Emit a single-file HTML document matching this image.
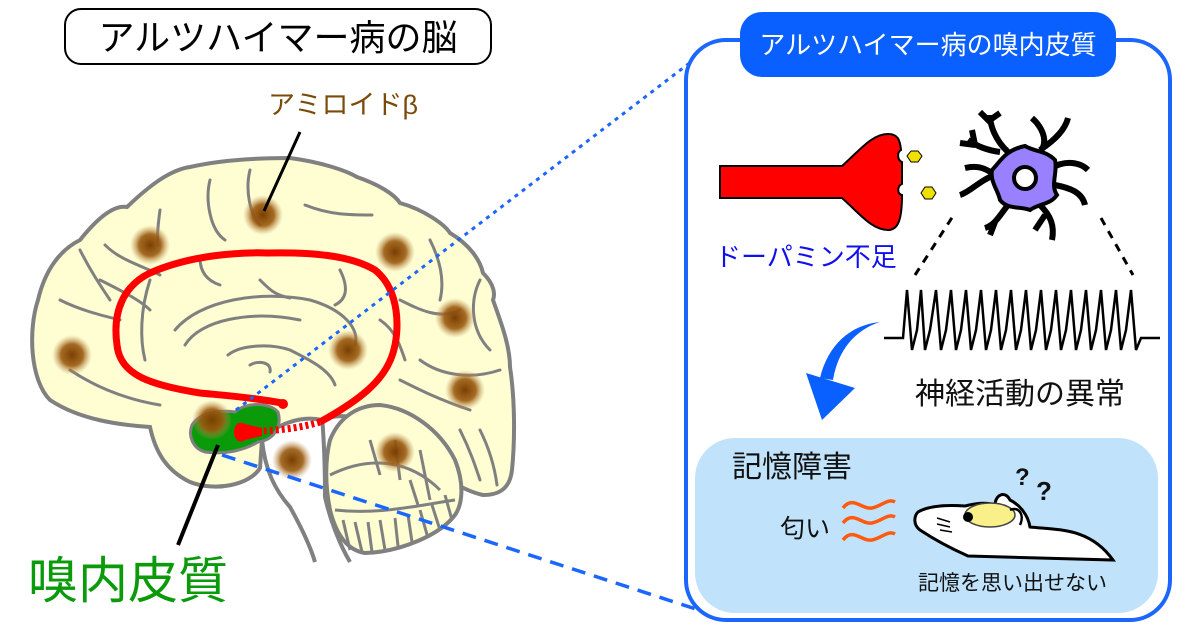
<!DOCTYPE html>
<html><head><meta charset="utf-8">
<style>
html,body{margin:0;padding:0;background:#fff;}
svg{display:block;}
text{font-family:"Liberation Sans","Noto Sans CJK JP",sans-serif;}
</style></head><body>
<svg width="1200" height="630" viewBox="0 0 1200 630" xmlns="http://www.w3.org/2000/svg">
<defs>
<radialGradient id="pl">
<stop offset="0" stop-color="#7a3f00"/>
<stop offset="0.55" stop-color="#9a5a10" stop-opacity="0.9"/>
<stop offset="1" stop-color="#c89a60" stop-opacity="0"/>
</radialGradient>
</defs>
<!-- title -->
<rect x="65" y="9" width="426" height="55" rx="16" fill="#fff" stroke="#000" stroke-width="2"/>
<text x="278" y="50" font-size="36" text-anchor="middle" fill="#000">アルツハイマー病の脳</text>
<text x="268" y="114" font-size="27" fill="#7a4a0a">アミロイドβ</text>

<!-- brainstem -->
<path d="M262,440 C265,470 275,490 290,507 C300,525 310,545 315,562 L350,562 C340,545 332,520 325,497 C323,470 322,440 322,420 Z" fill="#fff"/>
<path d="M262,440 C265,470 275,490 290,507 C300,525 310,545 315,562" fill="none" stroke="#808080" stroke-width="4"/>
<path d="M310,390 C318,405 323,420 323,430 C325,460 325,480 325,497 C330,520 340,545 350,562" fill="none" stroke="#808080" stroke-width="4"/>
<!-- cerebrum -->
<path d="M260,468 C250,485 215,492 190,482 C165,470 155,450 150,427 C120,425 80,420 50,400 C30,380 28,330 38,300 C45,270 60,250 80,240 C100,215 115,205 127,207 C150,185 170,170 190,167 C220,160 260,158 290,158 C320,162 345,170 357,177 C380,185 395,195 400,203 C425,210 445,225 450,233 C470,245 480,260 483,273 C495,285 495,295 493,300 C500,320 510,345 510,367 C515,400 515,440 512,470 C510,488 500,495 483,495 C460,490 430,470 400,440 C370,420 345,410 322,420 C300,415 275,425 262,440 Z" fill="#fefed2" stroke="#808080" stroke-width="4"/>
<!-- cerebellum -->
<path d="M330,440 C340,415 360,405 380,405 C410,408 440,430 455,460 C465,485 462,505 455,515 C440,535 400,552 365,553 C345,550 335,530 330,510 C325,485 325,460 330,440 Z" fill="#fefed2" stroke="#808080" stroke-width="4"/>
<g stroke="#808080" stroke-width="3" fill="none">
<path d="M330,475 C370,455 410,460 440,490"/><path d="M335,510 C380,515 420,505 455,500"/>
<path d="M343,520 L350,550"/><path d="M355,522 L362,552"/><path d="M368,522 L372,552"/><path d="M380,520 L385,550"/><path d="M395,518 L398,546"/><path d="M408,515 L412,542"/><path d="M420,510 L428,538"/><path d="M432,505 L440,530"/><path d="M445,495 L452,520"/>
<path d="M370,440 L380,475"/><path d="M395,440 L400,480"/><path d="M420,450 L430,500"/><path d="M410,480 L418,505"/>
</g>
<g stroke="#808080" stroke-width="3" fill="none" stroke-linecap="round">
<path d="M175,330 C200,300 260,290 310,300 C345,310 360,330 355,345"/>
<path d="M185,345 C200,320 250,310 300,320"/>
<path d="M228,355 C240,345 270,343 290,350 C310,360 330,370 335,385"/>
<path d="M250,365 C258,360 272,362 270,372"/>
<path d="M150,280 C140,310 140,340 145,360"/>
<path d="M100,280 C120,290 140,300 150,310"/>
<path d="M80,250 C90,270 100,285 110,300"/>
<path d="M60,300 C80,310 100,315 120,320"/>
<path d="M70,370 C100,390 130,400 160,405"/>
<path d="M210,180 C205,200 210,230 225,240"/>
<path d="M250,170 C245,190 250,215 260,225"/>
<path d="M305,205 C330,215 350,215 372,215"/>
<path d="M160,210 C158,225 157,235 158,245"/>
<path d="M105,245 C120,260 140,265 160,275"/>
<path d="M430,240 C440,260 445,280 440,300"/>
<path d="M480,280 C470,300 470,330 490,350"/>
<path d="M400,300 C420,310 440,320 460,310"/>
<path d="M420,360 C440,375 470,380 500,370"/>
<path d="M400,380 C420,390 440,400 470,410"/>
<path d="M340,270 C350,290 345,300 335,305"/>
<path d="M260,280 C270,290 275,295 290,298"/>
<path d="M200,258 C200,270 205,280 220,285"/>
<path d="M380,320 C395,330 400,345 405,360"/>
<path d="M480,430 C490,450 495,470 497,485"/>
<path d="M460,430 C470,450 475,465 480,480"/>
</g>
<!-- plaques -->
<g fill="url(#pl)">
<circle cx="263" cy="215" r="20"/><circle cx="150" cy="245" r="20"/><circle cx="395" cy="252" r="20"/>
<circle cx="455" cy="318" r="20"/><circle cx="72" cy="355" r="20"/><circle cx="348" cy="350" r="20"/>
<circle cx="465" cy="390" r="20"/><circle cx="395" cy="452" r="20"/><circle cx="292" cy="460" r="20"/>
</g>
<!-- green -->
<path d="M192,425 C200,412 220,410 235,412 C245,402 270,402 278,412 C282,425 275,440 258,442 C245,450 225,455 205,452 C192,448 188,435 192,425 Z" fill="#0a9a0a" stroke="#808080" stroke-width="3"/>
<circle cx="212" cy="420" r="20" fill="url(#pl)"/>
<!-- red loop -->
<path d="M282,403 C250,397 220,395 200,393 C150,385 120,375 117,345 C112,310 125,285 150,273 C190,255 240,252 267,253 C310,252 350,255 375,270 C400,290 400,330 393,353 C385,380 360,400 320,422" fill="none" stroke="#f00" stroke-width="7"/>
<path d="M320,422 C300,428 280,430 262,431" fill="none" stroke="#f00" stroke-width="7" stroke-dasharray="3,3"/>
<circle cx="283" cy="404" r="5" fill="#f00"/>
<path d="M262,428 L245,424 C238,420 234,426 234,432 C234,440 240,444 245,440 L262,436 Z" fill="#f00"/>
<!-- blue lines -->
<line x1="236" y1="410" x2="700" y2="55" stroke="#1a66ff" stroke-width="3" stroke-dasharray="4,5"/>
<line x1="222" y1="455" x2="705" y2="612" stroke="#1a66ff" stroke-width="3.5" stroke-dasharray="14,9"/>
<!-- leader lines -->
<line x1="300" y1="132" x2="264" y2="211" stroke="#000" stroke-width="3"/>
<line x1="218" y1="445" x2="178" y2="545" stroke="#000" stroke-width="4"/>
<text x="28" y="598" font-size="50" fill="#0a9a0a">嗅内皮質</text>

<!-- right panel -->
<rect x="686" y="40" width="484" height="580" rx="40" fill="#fff" stroke="#1a66ff" stroke-width="4"/>
<rect x="740" y="12" width="376" height="65" rx="22" fill="#0a5fff"/>
<text x="928" y="54" font-size="26" text-anchor="middle" fill="#fff">アルツハイマー病の嗅内皮質</text>
<!-- axon -->
<path d="M720,166 L842,166 C860,150 872,134 888,134 C898,134 900,140 901,150 C897,152 897,160 902,162 L902,184 C897,186 897,194 902,195 C902,220 898,230 888,230 C872,230 860,214 842,198 L720,198 Z" fill="#f00" stroke="#000" stroke-width="2"/>
<polygon points="911,151 918,151 922,156 918,162 911,162 907,156" fill="#f0e000" stroke="#000" stroke-width="1"/>
<polygon points="925,187 932,187 936,193 932,199 925,199 921,193" fill="#f0e000" stroke="#000" stroke-width="1"/>
<!-- neuron -->
<g stroke="#000" stroke-width="6" fill="none" stroke-linecap="butt">
<path d="M1008,152 C995,140 990,125 990,115 M990,122 L980,112 M990,120 L1000,113"/>
<path d="M1000,152 C985,150 975,145 968,140 M975,145 L960,143 M975,145 L972,130"/>
<path d="M1040,152 C1050,140 1040,125 1032,118 M1040,150 C1055,140 1065,130 1068,118"/>
<path d="M1052,168 C1065,160 1080,162 1088,170 M1055,185 C1070,188 1082,192 1085,205"/>
<path d="M1040,205 C1050,215 1055,225 1052,240 M1045,215 L1035,230"/>
<path d="M1008,205 C1000,215 995,225 985,228 M995,222 L990,235"/>
<path d="M995,175 C980,180 970,192 960,195 M995,175 C985,168 978,165 965,168"/>
</g>
<path d="M1025,146 C1035,152 1045,150 1055,160 C1058,172 1050,185 1057,195 C1050,205 1040,203 1030,210 C1020,206 1008,210 1000,200 C998,190 990,182 992,170 C1000,162 1005,150 1025,146 Z" fill="#9980ff" stroke="#000" stroke-width="4"/>
<circle cx="1025" cy="178" r="11" fill="#fff" stroke="#000" stroke-width="4"/>
<text x="715" y="266" font-size="26" fill="#1010ee">ドーパミン不足</text>
<line x1="915" y1="275" x2="955" y2="213" stroke="#000" stroke-width="3" stroke-dasharray="8,7"/>
<line x1="1101" y1="218" x2="1133" y2="275" stroke="#000" stroke-width="3" stroke-dasharray="8,7"/>
<!-- spikes -->
<polyline fill="none" stroke="#000" stroke-width="2.5" points="884,338 903,338 907,290 912,350 917,330 921,290 925,350 930,330 936,290 941,350 946,330 951,290 956,350 961,330 966,290 971,350 976,330 981,290 986,350 991,330 996,290 1001,350 1006,330 1011,290 1016,350 1021,330 1026,290 1031,350 1036,330 1041,290 1046,350 1051,330 1056,290 1061,350 1066,330 1071,290 1076,350 1081,330 1086,290 1091,350 1096,330 1101,290 1106,350 1111,330 1116,290 1121,350 1126,330 1131,290 1136,350 1141,338 1160,338"/>
<!-- blue arrow -->
<path d="M880,322 C855,330 838,350 833,380 L820,378 C828,345 850,325 880,322 Z" fill="#0a5fff"/>
<path d="M806,373 L855,388 L822,420 Z" fill="#0a5fff"/>
<text x="1020" y="404" font-size="30" text-anchor="middle" fill="#111">神経活動の異常</text>
<!-- memory box -->
<rect x="695" y="438" width="463" height="175" rx="40" fill="#c0e2fb"/>
<text x="732" y="477" font-size="30" fill="#111">記憶障害</text>
<text x="780" y="537" font-size="25" fill="#111">匂い</text>
<g fill="none" stroke="#ff5a10" stroke-width="3.5">
<path d="M843,508 C853,495 862,510 872,508 C882,506 888,498 895,502"/>
<path d="M843,523 C853,510 862,525 872,523 C882,521 888,513 895,517"/>
<path d="M843,540 C853,527 862,542 872,540 C882,538 888,530 895,534"/>
</g>
<!-- mouse -->
<path d="M918,512 C930,505 950,505 965,506 C980,502 990,503 995,505 C995,495 1005,490 1010,500 C1020,505 1028,515 1030,527 C1060,530 1090,528 1113,560 L968,556 C950,548 935,540 920,530 C913,525 914,516 918,512 Z" fill="#fff" stroke="#000" stroke-width="3"/>
<ellipse cx="990" cy="515" rx="25" ry="12" fill="#faf08a" stroke="#444" stroke-width="1.5"/>
<circle cx="968" cy="517" r="5" fill="#000"/>
<path d="M1010,510 C1018,506 1025,514 1020,525" fill="none" stroke="#000" stroke-width="2.5"/>
<g stroke="#000" stroke-width="1.5"><line x1="937" y1="518" x2="950" y2="522"/><line x1="937" y1="524" x2="950" y2="527"/><line x1="940" y1="530" x2="952" y2="532"/></g>
<text x="1015" y="485" font-size="24" font-weight="bold" fill="#111">?</text>
<text x="1036" y="500" font-size="26" font-weight="bold" fill="#111">?</text>
<text x="918" y="590" font-size="21" fill="#111">記憶を思い出せない</text>
</svg>
</body></html>
